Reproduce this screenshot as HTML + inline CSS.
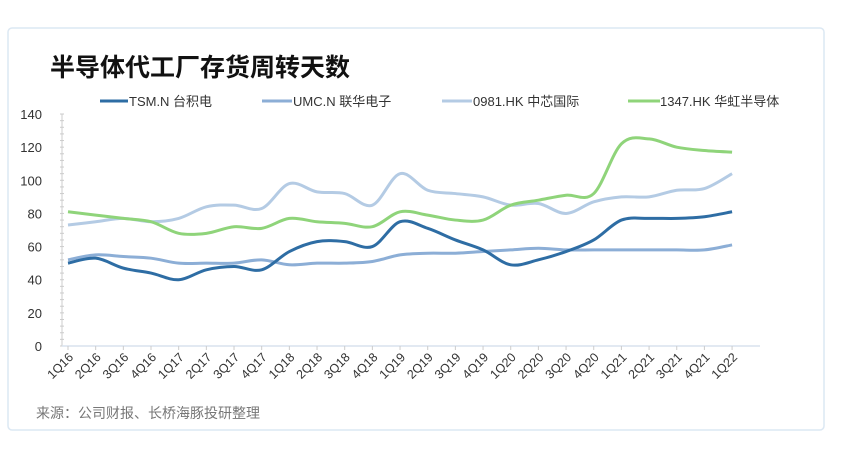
<!DOCTYPE html>
<html><head><meta charset="utf-8"><style>
body{margin:0;width:855px;height:461px;background:#fff;overflow:hidden;font-family:"Liberation Sans","Noto Sans CJK SC",sans-serif}
</style></head><body>
<svg width="855" height="461" xmlns="http://www.w3.org/2000/svg" id="s" font-family="Liberation Sans, Noto Sans CJK SC, sans-serif">
<rect x="8" y="28" width="816" height="402" fill="#fff" stroke="#dce8f3" stroke-width="1.5" rx="4"/>
<text x="50" y="76" font-size="25" font-weight="bold" fill="#111">半导体代工厂存货周转天数</text>
<g font-size="13" fill="#333">
<line x1="100" y1="101" x2="128" y2="101" stroke="#2e6da4" stroke-width="3"/><text x="129" y="106">TSM.N 台积电</text>
<line x1="262" y1="101" x2="292" y2="101" stroke="#8caed6" stroke-width="3"/><text x="293" y="106">UMC.N 联华电子</text>
<line x1="442" y1="101" x2="472" y2="101" stroke="#b4cbe4" stroke-width="3"/><text x="473" y="106">0981.HK 中芯国际</text>
<line x1="628" y1="101" x2="660" y2="101" stroke="#8fd47a" stroke-width="3"/><text x="660" y="106">1347.HK 华虹半导体</text>
</g>
<g id="ax" font-size="13" fill="#333"></g>
<g id="ln" fill="none" stroke-width="3"></g>
<text x="36" y="418" font-size="14" fill="#777">来源：公司财报、长桥海豚投研整理</text>
</svg>
<script>
var ax=document.getElementById('ax'),ln=document.getElementById('ln'),NS='http://www.w3.org/2000/svg';
function Y(v){return 346-v*1.657}function X(i){return 68+i*27.67}
var h='';
for(var v=0;v<=140;v+=20){h+='<text x="42" y="'+(Y(v)+5)+'" text-anchor="end">'+v+'</text>';}
for(var v=0;v<=140;v+=4){h+='<line x1="60" x2="64" y1="'+Y(v)+'" y2="'+Y(v)+'" stroke="#ccc"/>';}
h+='<line x1="62" x2="62" y1="114" y2="346" stroke="#ccc"/><line x1="62" x2="760" y1="346" y2="346" stroke="#d8e2ee" stroke-width="1.5"/>';
var q=['1Q','2Q','3Q','4Q'];
for(var i=0;i<25;i++){var yr=16+Math.floor(i/4);var l=q[i%4]+yr;var x=X(i);
h+='<line x1="'+x+'" x2="'+x+'" y1="346" y2="350" stroke="#ccc"/>';
h+='<text transform="translate('+(x+6)+',358) rotate(-45)" text-anchor="end" font-size="12.5">'+l+'</text>';}
ax.innerHTML=h;
var D=[
['#b4cbe4',[73,75,77,75,77,84,85,83,98,93,92,85,104,94,92,90,85,86,80,87,90,90,94,95,104]],
['#8caed6',[52,55,54,53,50,50,50,52,49,50,50,51,55,56,56,57,58,59,58,58,58,58,58,58,61]],
['#8fd47a',[81,79,77,75,68,68,72,71,77,75,74,72,81,79,76,76,85,88,91,92,122,125,120,118,117]],
['#2e6da4',[50,53,47,44,40,46,48,46,57,63,63,60,75,71,64,58,49,52,57,64,76,77,77,78,81]]];
var o='';
D.forEach(function(s){var p=s[1].map(function(v,i){return[X(i),Y(v)]});var d='M'+p[0];
for(var i=0;i<p.length-1;i++){var a=p[i-1]||p[i],b=p[i],c=p[i+1],e=p[i+2]||c;
d+=' C'+(b[0]+(c[0]-a[0])/6)+','+(b[1]+(c[1]-a[1])/6)+' '+(c[0]-(e[0]-b[0])/6)+','+(c[1]-(e[1]-b[1])/6)+' '+c;}
o+='<path d="'+d+'" stroke="'+s[0]+'"/>';});
ln.innerHTML=o;
</script>
</body></html>
